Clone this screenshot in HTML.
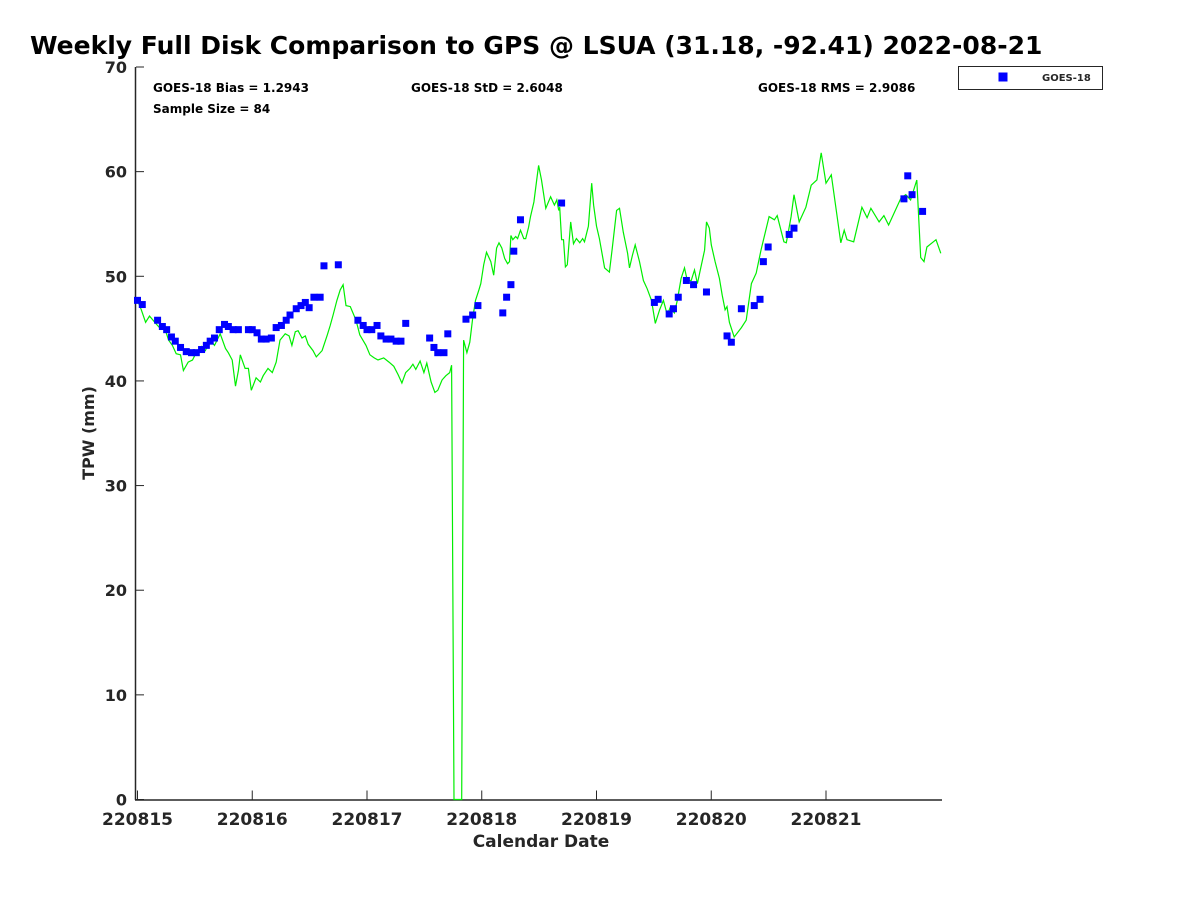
<!DOCTYPE html>
<html><head><meta charset="utf-8"><style>
body{margin:0;background:#fff;}
svg{display:block;font-family:"DejaVu Sans","Liberation Sans",sans-serif;}
</style></head><body>
<svg id="chart" width="1200" height="900" viewBox="0 0 1200 900">
<text x="30" y="54" font-size="25" font-weight="bold" fill="#000">Weekly Full Disk Comparison to GPS @ LSUA (31.18, -92.41) 2022-08-21</text>
<g id="axes"></g>
<g id="series"></g>
<text x="153" y="92" font-size="12" font-weight="bold">GOES-18 Bias = 1.2943</text>
<text x="153" y="113" font-size="12" font-weight="bold">Sample Size = 84</text>
<text x="411" y="92" font-size="12" font-weight="bold">GOES-18 StD = 2.6048</text>
<text x="758" y="92" font-size="12" font-weight="bold">GOES-18 RMS = 2.9086</text>
<g>
<rect x="958.5" y="66.5" width="144" height="23" fill="#fff" stroke="#262626" stroke-width="1"/>
<rect x="998.5" y="72.5" width="9" height="9" fill="#0000ff"/>
<text x="1042" y="81" font-size="10" font-weight="bold" fill="#262626">GOES-18</text>
</g>
<text x="541" y="847" font-size="17" font-weight="bold" fill="#262626" text-anchor="middle">Calendar Date</text>
<text transform="translate(94,433) rotate(-90)" font-size="16" font-weight="bold" fill="#262626" text-anchor="middle">TPW (mm)</text>
</svg>
<script>
const xTickLabels=["220815","220816","220817","220818","220819","220820","220821"];
const yTicks=[0,10,20,30,40,50,60,70];
const gpsHours=[0,0.8,1.7,2.5,3.8,4.8,5.8,6.5,7.3,8.1,9.0,9.6,10.6,11.5,12.5,13.4,14.2,15.2,16.1,17.3,18.4,19.0,19.8,20.5,21.1,21.5,22.5,23.2,23.8,24.8,25.7,26.3,27.3,28.2,29.0,29.8,30.9,31.7,32.3,33.0,33.6,34.4,35.1,35.7,36.7,37.4,38.6,39.7,40.3,40.9,41.7,42.4,43.0,43.6,44.5,45.7,46.5,47.8,48.6,49.5,50.3,51.5,52.6,53.6,54.5,55.3,56.1,57.0,57.6,58.2,59.1,59.9,60.5,61.4,62.2,62.8,63.7,64.5,65.3,65.7,66.2,67.8,68.2,68.9,69.5,70.1,70.7,71.4,71.8,72.4,73.0,73.9,74.5,75.1,75.6,76.2,76.8,77.4,77.8,78.1,78.5,79.1,79.5,80.1,80.8,81.2,81.8,82.2,82.9,83.5,83.9,84.5,85.4,86.4,87.2,87.7,88.1,88.3,88.7,89.1,89.5,89.9,90.6,91.2,91.8,92.5,93.1,93.5,94.3,95.0,95.4,96.0,96.6,97.7,98.7,99.3,100.2,100.8,101.6,102.5,102.9,103.5,104.1,105.0,105.8,106.6,107.5,108.3,109.2,110.0,110.8,111.4,112.3,112.9,113.7,114.4,115.0,115.8,116.5,117.1,117.7,118.6,119.0,119.6,120.0,120.8,121.7,122.3,122.9,123.3,123.8,124.8,126.3,127.3,128.4,129.4,130.4,132.1,133.2,133.8,135.2,135.7,136.7,137.3,138.4,139.8,140.9,142.1,143.0,144.0,145.1,147.1,147.8,148.4,149.8,151.5,152.6,153.4,155.1,156.1,157.1,159.7,160.7,161.7,163.0,163.8,164.5,165.1,167.0,168.0];
const gpsTpw=[47.7,46.8,45.6,46.2,45.5,45.0,44.9,43.9,43.4,42.6,42.5,41.0,41.8,42.0,42.9,43.3,42.9,43.9,43.4,44.5,43.1,42.7,42.0,39.5,41.0,42.5,41.2,41.2,39.1,40.3,39.9,40.5,41.2,40.8,41.8,43.9,44.5,44.3,43.4,44.7,44.8,44.1,44.3,43.5,42.9,42.3,42.9,44.4,45.3,46.3,47.7,48.7,49.2,47.2,47.1,45.8,44.4,43.4,42.5,42.2,42.0,42.2,41.8,41.4,40.6,39.8,40.8,41.2,41.6,41.1,41.9,40.8,41.7,39.9,38.9,39.1,40.1,40.5,40.8,41.5,0,0,43.9,42.7,43.7,46.0,47.7,48.7,49.3,51.1,52.3,51.4,50.1,52.7,53.2,52.7,51.7,51.2,51.4,53.9,53.5,53.8,53.6,54.4,53.6,53.6,54.7,55.7,57.1,59.2,60.6,59.2,56.5,57.6,56.8,57.3,56.3,56.6,53.5,53.5,50.9,51.1,55.2,53.1,53.6,53.2,53.6,53.3,54.8,58.9,56.8,54.8,53.6,50.8,50.4,52.7,56.3,56.5,54.2,52.2,50.8,52.0,53.0,51.4,49.6,48.8,47.7,45.5,46.8,47.7,46.3,47.0,46.5,47.7,49.8,50.8,49.6,49.6,50.6,49.3,50.6,52.5,55.2,54.6,53.0,51.4,49.8,48.2,46.8,47.1,45.6,44.2,45.1,45.8,49.3,50.3,52.5,55.7,55.4,55.8,53.3,53.2,55.7,57.8,55.2,56.6,58.7,59.2,61.8,58.9,59.7,53.2,54.4,53.5,53.3,56.6,55.6,56.5,55.2,55.8,54.9,57.5,57.8,57.3,59.2,51.8,51.4,52.8,53.5,52.2];
const goesHours=[0,1.0,4.2,5.2,6.1,7.1,7.9,9.0,10.2,11.3,12.3,13.4,14.4,15.2,16.1,17.1,18.2,19.0,20.0,21.1,23.2,24.0,25.0,25.9,26.9,28.0,29.0,30.1,31.1,31.9,33.2,34.2,35.1,35.9,36.9,38.2,39.0,42.0,46.1,47.2,48.0,49.0,50.1,50.9,52.0,53.0,54.1,55.1,56.1,61.1,62.0,62.8,64.1,64.9,68.7,70.1,71.2,76.4,77.2,78.1,78.7,80.1,88.7,108.1,108.9,111.2,112.1,113.1,114.8,116.3,119.0,123.3,124.2,126.3,129.0,130.2,130.9,131.9,136.3,137.3,160.3,161.1,162.0,164.2];
const goesTpw=[47.7,47.3,45.8,45.2,44.9,44.2,43.8,43.2,42.8,42.7,42.7,43.0,43.4,43.8,44.1,44.9,45.4,45.2,44.9,44.9,44.9,44.9,44.6,44.0,44.0,44.1,45.1,45.3,45.8,46.3,46.9,47.2,47.5,47.0,48.0,48.0,51.0,51.1,45.8,45.3,44.9,44.9,45.3,44.3,44.0,44.0,43.8,43.8,45.5,44.1,43.2,42.7,42.7,44.5,45.9,46.3,47.2,46.5,48.0,49.2,52.4,55.4,57.0,47.5,47.8,46.4,46.9,48.0,49.6,49.2,48.5,44.3,43.7,46.9,47.2,47.8,51.4,52.8,54.0,54.6,57.4,59.6,57.8,56.2];

const NS="http://www.w3.org/2000/svg";
const X0=137.5,PXD=114.75,Y0=799.5,YT=67;
const xs=h=>X0+h/24*PXD;
const ys=v=>Y0-(v/70)*(Y0-YT);
function mk(tag,attrs,parent){const e=document.createElementNS(NS,tag);for(const k in attrs)e.setAttribute(k,attrs[k]);parent.appendChild(e);return e;}
const axes=document.getElementById('axes'),series=document.getElementById('series');
const c="#262626";
let yl=mk('line',{x1:135.5,y1:YT,x2:135.5,y2:Y0+0.5,stroke:c,'stroke-width':1.5},axes);


let xl=mk('line',{x1:135,y1:Y0+0.5,x2:942,y2:Y0+0.5,stroke:c,'stroke-width':1.5},axes);


yTicks.forEach(v=>{
 const y=ys(v);
 const t=mk('line',{x1:136,y1:y,x2:144,y2:y,stroke:c,'stroke-width':1},axes);
 
 
 const l=mk('text',{x:127,y:y+6,'font-size':16,'font-weight':'bold',fill:c,'text-anchor':'end'},axes);
 l.textContent=v;
 
 
});
xTickLabels.forEach((lab,i)=>{
 const x=xs(i*24);
 const t=mk('line',{x1:x,y1:Y0,x2:x,y2:Y0-9,stroke:c,'stroke-width':1},axes);
 
 
 const l=mk('text',{x:x,y:825,'font-size':17,'font-weight':'bold',fill:c,'text-anchor':'middle'},axes);
 l.textContent=lab;
 
 
});
const pts=gpsHours.map((h,i)=>xs(h).toFixed(1)+','+ys(gpsTpw[i]).toFixed(1)).join(' ');
const pl=mk('polyline',{points:pts,fill:'none',stroke:'#00ee00','stroke-width':1.2},series);


goesHours.forEach((h,i)=>{
 const r=mk('rect',{x:xs(h)-3.5,y:ys(goesTpw[i])-3.5,width:7,height:7,fill:'#0000ff'},series);
 
 
});
</script>
</body></html>
